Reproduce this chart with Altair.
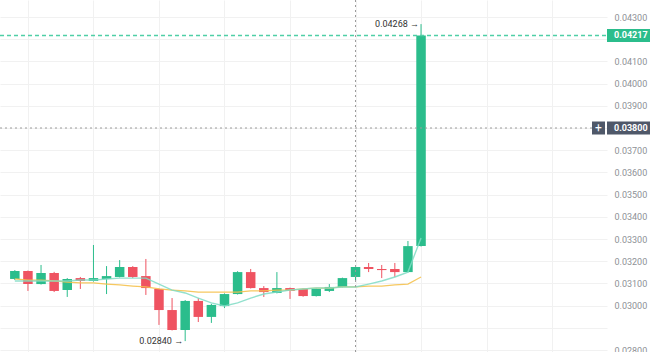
import altair as alt
import pandas as pd

# ---- data ----
opens  = [0.03120, 0.03156, 0.03097, 0.03147, 0.03070, 0.03124, 0.03111, 0.03120,
          0.03129, 0.03174, 0.03133, 0.03075, 0.02980, 0.02890, 0.03021, 0.02949,
          0.02998, 0.03052, 0.03151, 0.03079, 0.03057, 0.03079, 0.03075, 0.03043,
          0.03066, 0.03084, 0.03129, 0.03174, 0.03165, 0.03165, 0.03151, 0.03268]
highs  = [0.03160, 0.03158, 0.03183, 0.03152, 0.03124, 0.03129, 0.03273, 0.03178,
          0.03205, 0.03178, 0.03210, 0.03077, 0.03034, 0.03025, 0.03034, 0.03008,
          0.03055, 0.03155, 0.03165, 0.03088, 0.03151, 0.03081, 0.03077, 0.03077,
          0.03097, 0.03126, 0.03176, 0.03192, 0.03183, 0.03192, 0.03291, 0.04268]
lows   = [0.03115, 0.03066, 0.03095, 0.03061, 0.03039, 0.03075, 0.03108, 0.03052,
          0.03127, 0.03124, 0.03048, 0.02913, 0.02888, 0.02840, 0.02926, 0.02922,
          0.02989, 0.03050, 0.03077, 0.03039, 0.03055, 0.03030, 0.03040, 0.03041,
          0.03061, 0.03082, 0.03111, 0.03151, 0.03124, 0.03129, 0.03149, 0.03266]
closes = [0.03156, 0.03097, 0.03147, 0.03066, 0.03120, 0.03111, 0.03124, 0.03133,
          0.03174, 0.03129, 0.03079, 0.02980, 0.02890, 0.03021, 0.02949, 0.03003,
          0.03052, 0.03151, 0.03079, 0.03061, 0.03079, 0.03066, 0.03043, 0.03075,
          0.03084, 0.03124, 0.03174, 0.03165, 0.03160, 0.03151, 0.03268, 0.04217]
ma_fast = [0.03111, 0.03111, 0.03111, 0.03111, 0.03111, 0.03115, 0.03115, 0.03120,
           0.03124, 0.03124, 0.03124, 0.03097, 0.03070, 0.03057, 0.03034, 0.03012,
           0.02998, 0.03012, 0.03034, 0.03052, 0.03061, 0.03070, 0.03075, 0.03079,
           0.03079, 0.03084, 0.03084, 0.03097, 0.03111, 0.03129, 0.03151, 0.03305]
ma_slow = [0.03120, 0.03115, 0.03115, 0.03111, 0.03106, 0.03102, 0.03102, 0.03097,
           0.03093, 0.03088, 0.03084, 0.03075, 0.03070, 0.03066, 0.03061, 0.03061,
           0.03061, 0.03061, 0.03066, 0.03066, 0.03070, 0.03070, 0.03075, 0.03079,
           0.03079, 0.03084, 0.03084, 0.03088, 0.03088, 0.03093, 0.03097, 0.03129]
y_ticks = [0.028, 0.029, 0.030, 0.031, 0.032, 0.033, 0.034, 0.035,
           0.036, 0.037, 0.038, 0.039, 0.040, 0.041, 0.042, 0.043]
x_grid = [1, 6, 11, 16, 21, 26, 31, 36, 41]
price_lines = [0.04217, 0.03800]
price_kinds = ["last", "cross"]
cross_index = 26
high_label = "0.04268 →"
low_label = "0.02840 →"

GREEN = "#2bbd8c"
RED = "#ef5361"
SLATE = "#4f5869"
FONT = "Roboto"

n = len(opens)
df = pd.DataFrame({
    "i": list(range(n)), "open": opens, "high": highs, "low": lows, "close": closes,
    "dir": ["up" if c >= o else "down" for o, c in zip(opens, closes)],
    "fast": ma_fast, "slow": ma_slow,
})
pl = pd.DataFrame({"p": price_lines, "kind": price_kinds,
                   "t": [f"{v:.5f}" for v in price_lines]})

xs = alt.Scale(domain=[-0.7506, 44.81], nice=False, zero=False)
ys = alt.Scale(domain=[0.027910, 0.043766], nice=False, zero=False)
col = alt.Scale(domain=["up", "down"], range=[GREEN, RED])
box_col = alt.Scale(domain=["last", "cross"], range=[GREEN, SLATE])

label_expr = ("(abs(datum.value-0.029)<0.00001 || abs(datum.value-0.042)<0.00001 || "
              "abs(datum.value-0.038)<0.00001) ? '' : format(datum.value, '.5f')")

X_AXIS = alt.Axis(values=x_grid, labels=False, ticks=False, domain=False,
                  grid=True, gridColor="#f1f1f1", title=None)
Y_AXIS = alt.Axis(orient="right", values=y_ticks, labelExpr=label_expr,
                  grid=True, gridColor="#f1f1f1", domain=False, ticks=False,
                  labelFont=FONT, labelFontSize=9, labelColor="#8e9196",
                  labelPadding=7, labelAlign="left", title=None)


def X(field):
    return alt.X(field, scale=xs, axis=X_AXIS, title=None)


def Y(field):
    return alt.Y(field, scale=ys, axis=Y_AXIS, title=None)


base = alt.Chart(df)

wicks = base.mark_rule(strokeWidth=1).encode(
    x=X("i:Q"), y=Y("low:Q"), y2="high:Q",
    color=alt.Color("dir:N", scale=col, legend=None),
)
bodies = base.mark_bar(size=9.5).encode(
    x=X("i:Q"), y=Y("open:Q"), y2="close:Q",
    color=alt.Color("dir:N", scale=col, legend=None),
)
slow_line = base.mark_line(strokeWidth=1.2, opacity=0.9).encode(
    x=X("i:Q"), y=Y("slow:Q"), color=alt.value("#f5c24f"))
fast_line = base.mark_line(strokeWidth=1.4, opacity=0.85).encode(
    x=X("i:Q"), y=Y("fast:Q"), color=alt.value("#7fdcc4"))

pbase = alt.Chart(pl)
green_rule = pbase.transform_filter(alt.datum.kind == "last").mark_rule(
    strokeDash=[4, 3], strokeWidth=1.5).encode(
    y=Y("p:Q"), x=alt.value(0), x2=alt.value(607), stroke=alt.value("#4fcfa6"))
cross_h = pbase.transform_filter(alt.datum.kind == "cross").mark_rule(
    strokeDash=[2, 3], strokeWidth=1).encode(
    y=Y("p:Q"), x=alt.value(0), x2=alt.value(592), stroke=alt.value("#9a9a9a"))
cross_v = alt.Chart(pd.DataFrame({"i": [cross_index]})).mark_rule(
    strokeDash=[2, 3], strokeWidth=1).encode(
    x=X("i:Q"), y=alt.value(0), y2=alt.value(352), stroke=alt.value("#9a9a9a"))

ann = pd.DataFrame({"i": [31, 13], "p": [highs[31], lows[13]], "t": [high_label, low_label]})
ann_text = alt.Chart(ann).mark_text(align="right", baseline="middle", dx=-2,
                                    font=FONT, fontSize=9).encode(
    x=X("i:Q"), y=Y("p:Q"), text="t:N", color=alt.value("#333333"))

boxes = pbase.mark_rect(yOffset=-6.5, y2Offset=6.5).encode(
    x=alt.value(607), x2=alt.value(650), y=Y("p:Q"), y2="p:Q",
    fill=alt.Fill("kind:N", scale=box_col, legend=None))
box_txt = pbase.mark_text(font=FONT, fontSize=9, fontWeight="bold",
                          align="left", baseline="middle").encode(
    x=alt.value(614), y=Y("p:Q"), text="t:N", color=alt.value("white"))
plus_box = pbase.transform_filter(alt.datum.kind == "cross").mark_rect(
    yOffset=-6.5, y2Offset=6.5).encode(
    x=alt.value(592), x2=alt.value(605), y=Y("p:Q"), y2="p:Q", fill=alt.value(SLATE))
plus_txt = pbase.transform_filter(alt.datum.kind == "cross").mark_text(
    font=FONT, fontSize=12, align="center", baseline="middle").encode(
    x=alt.value(598.5), y=Y("p:Q"), text=alt.value("+"), color=alt.value("white"))

chart = alt.layer(
    wicks, bodies, slow_line, fast_line, cross_h, cross_v, green_rule, ann_text,
    boxes, box_txt, plus_box, plus_txt
).properties(
    width=607, height=352, autosize=alt.AutoSizeParams(type="none"),
    padding={"left": 0, "top": 0, "right": 43, "bottom": 0}, background="white"
).configure_view(stroke=None)

chart.save("out.html", embed_options={"renderer": "svg", "actions": False})
